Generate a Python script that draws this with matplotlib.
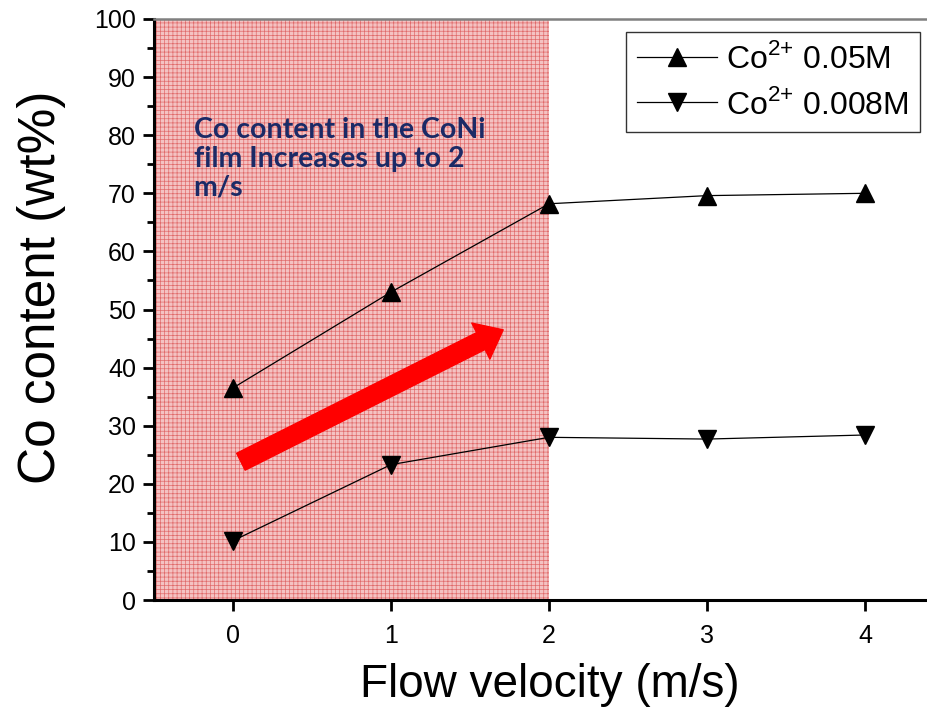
import matplotlib
matplotlib.use("Agg")
import matplotlib.pyplot as plt
from matplotlib.patches import Rectangle
from matplotlib.ticker import MultipleLocator

# ---- data ----
velocity = [0, 1, 2, 3, 4]
co_005 = [36.5, 53.0, 68.2, 69.6, 70.0]
co_0008 = [10.2, 23.3, 28.0, 27.7, 28.4]
series_labels = [r"Co$^{2{+}}$ 0.05M", r"Co$^{2{+}}$ 0.008M"]
x_ticks = [0, 1, 2, 3, 4]
y_ticks = [0, 10, 20, 30, 40, 50, 60, 70, 80, 90, 100]
note = "Co content in the CoNi\nfilm Increases up to 2\nm/s"

plt.rcParams["font.family"] = ["Liberation Sans", "DejaVu Sans"]
plt.rcParams["mathtext.fontset"] = "custom"
plt.rcParams["mathtext.rm"] = "Liberation Sans"
plt.rcParams["hatch.linewidth"] = 0.5

fig = plt.figure(figsize=(9.27, 7.12), dpi=100)
# right edge of the axes sits beyond the figure, as in the original
ax = fig.add_axes([154 / 927, 112 / 712, (944 - 154) / 927, 581 / 712])

ax.set_xlim(-0.5, 4.5)
ax.set_ylim(0, 100)

# shaded region up to 2 m/s
ax.add_patch(Rectangle((-0.5, 0), 2.5, 100, facecolor="#f4c2c2",
                       edgecolor="#e06a6a", hatch="++++", linewidth=0, zorder=0))

ax.plot(velocity, co_005, color="black", linewidth=0.9, marker="^",
        markersize=13, label=series_labels[0], zorder=3)
ax.plot(velocity, co_0008, color="black", linewidth=0.9, marker="v",
        markersize=13, label=series_labels[1], zorder=3)

ax.annotate("", xy=(1.71, 46.5), xytext=(0.05, 23.8),
            arrowprops=dict(arrowstyle="simple,head_length=0.9,head_width=1.45,tail_width=0.68",
                            color="#ff0000", mutation_scale=20, shrinkA=0, shrinkB=0),
            zorder=4)

ax.text(-0.25, 83.2, note, fontsize=20.5, fontweight="bold", color="#1b2a66",
        family=["Lato", "DejaVu Sans"], va="top", ha="left", linespacing=1.15, zorder=5)

ax.set_xticks(x_ticks)
ax.set_yticks(y_ticks)
ax.yaxis.set_minor_locator(MultipleLocator(5))
ax.tick_params(axis="both", which="major", direction="out", length=8, width=2,
               labelsize=18, colors="black")
ax.tick_params(axis="y", which="minor", direction="out", length=5, width=2)
ax.tick_params(axis="x", which="major", pad=9)
ax.tick_params(axis="y", which="major", pad=5)

for side in ("left", "bottom"):
    ax.spines[side].set_linewidth(2.2)
    ax.spines[side].set_color("black")
ax.spines["top"].set_linewidth(1.8)
ax.spines["top"].set_color("#808080")
ax.spines["right"].set_visible(False)

ax.set_xlabel("Flow velocity (m/s)", fontsize=33)
ax.xaxis.set_label_coords(0.501, -0.108)
ax.set_ylabel("Co content (wt%)", fontsize=37)
ax.yaxis.set_label_coords(-0.112, 0.539)

leg = ax.legend(loc="upper right", bbox_to_anchor=(920 / 927, 1 - 32 / 712),
                bbox_transform=fig.transFigure, fontsize=23, frameon=True,
                fancybox=False, edgecolor="black", handlelength=2.5,
                handletextpad=0.3, borderpad=0.35, labelspacing=0.42,
                borderaxespad=0)
leg.get_frame().set_linewidth(1.0)

fig.savefig("out.png", dpi=100, facecolor="white")
